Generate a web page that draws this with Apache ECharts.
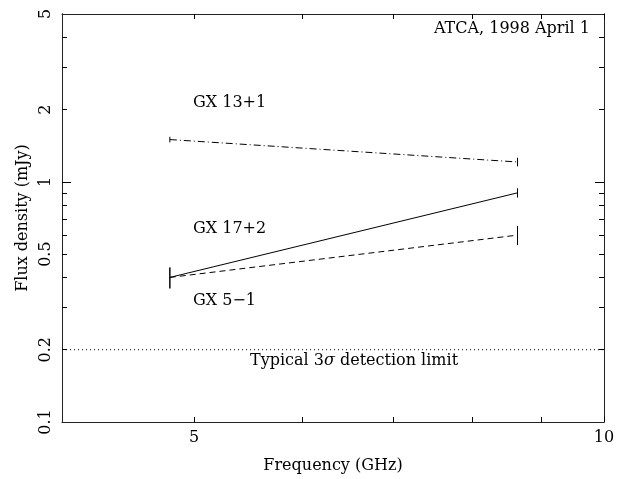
<!DOCTYPE html>
<html lang="en">
<head>
<meta charset="UTF-8">
<title>Flux density vs frequency</title>
<style>html,body{margin:0;padding:0;background:#fff;}</style>
</head>
<body>
<div id="main" style="width:626px;height:479px;"></div>
<script src="https://cdn.jsdelivr.net/npm/echarts@6/dist/echarts.min.js"></script>
<script>
// data
var freqs = [4.8, 8.64];
var gx13 = [1.50, 1.21];
var gx13Err = [0.04, 0.05];
var gx17 = [0.40, 0.90];
var gx17Err = [0.04, 0.04];
var gx5 = [0.40, 0.60];
var gx5Err = [0.04, 0.055];
var limitX = [4, 10];
var limitY = 0.2;
var xLabels = [5, 10];
var xTicks = [5, 6, 7, 8, 9, 10];
var yLabels = [0.1, 0.2, 0.5, 1, 2, 5];
var yTicks = [0.2, 0.3, 0.4, 0.5, 0.6, 0.7, 0.8, 0.9, 2, 3, 4];
var yMajorTicks = [1];

var font = 'DejaVu Serif';
var fs = 16;
var ink = '#000';

function pairs(xs, ys) {
    return xs.map(function (x, i) { return [x, ys[i]]; });
}
function errData(xs, ys, es) {
    return xs.map(function (x, i) { return [x, ys[i], es[i]]; });
}
function errRender(params, api) {
    var x = api.value(0), y = api.value(1), e = api.value(2);
    var p1 = api.coord([x, y - e]);
    var p2 = api.coord([x, y + e]);
    return {
        type: 'line',
        shape: {x1: p1[0], y1: p1[1], x2: p2[0], y2: p2[1]},
        style: {stroke: ink, lineWidth: 1}
    };
}
function lineSeries(name, data, type) {
    return {
        name: name, type: 'line', data: data, symbol: 'none',
        lineStyle: {color: ink, width: 1, type: type},
        silent: true
    };
}
function errSeries(data) {
    return {type: 'custom', renderItem: errRender, data: data, encode: {x: 0, y: 1}, silent: true};
}
// extra y axis that only carries ticks
function tickAxis(pos, ticks, len) {
    return {
        type: 'log', logBase: 10, min: 0.1, max: 5, position: pos,
        axisLine: {lineStyle: {color: '#222', width: 1}},
        axisTick: {inside: true, length: len, customValues: ticks, lineStyle: {color: ink}},
        axisLabel: {show: false},
        splitLine: {show: false}
    };
}

var myChart = echarts.init(document.getElementById('main'));

var axisLine = {lineStyle: {color: '#222', width: 1}};
var txt = fs + 'px "DejaVu Serif"';

var option = {
    animation: false,
    backgroundColor: '#fff',
    textStyle: {fontFamily: font},
    grid: {left: 62, right: 22, top: 14, bottom: 57},
    xAxis: [
        {
            type: 'log', logBase: 10, min: 4, max: 10,
            name: 'Frequency (GHz)', nameLocation: 'middle', nameGap: 36, nameMoveOverlap: false,
            nameTextStyle: {fontFamily: font, fontSize: fs, color: ink},
            axisLine: axisLine,
            axisTick: {inside: true, length: 5, customValues: xTicks, lineStyle: {color: ink}},
            axisLabel: {customValues: xLabels, fontFamily: font, fontSize: fs, color: ink, margin: 8},
            splitLine: {show: false}
        },
        {
            type: 'log', logBase: 10, min: 4, max: 10, position: 'top',
            axisLine: axisLine,
            axisTick: {inside: true, length: 5, customValues: xTicks, lineStyle: {color: ink}},
            axisLabel: {show: false},
            splitLine: {show: false}
        }
    ],
    yAxis: [
        {
            type: 'log', logBase: 10, min: 0.1, max: 5,
            name: 'Flux density (mJy)', nameLocation: 'middle', nameGap: 31, nameMoveOverlap: false,
            nameTextStyle: {fontFamily: font, fontSize: fs, color: ink},
            axisLine: axisLine,
            axisTick: {inside: true, length: 5, customValues: yTicks, lineStyle: {color: ink}},
            axisLabel: {customValues: yLabels, rotate: 90, fontFamily: font, fontSize: fs, color: ink, margin: 8},
            splitLine: {show: false}
        },
        tickAxis('right', yTicks, 5),
        tickAxis('left', yMajorTicks, 9),
        tickAxis('right', yMajorTicks, 9)
    ],
    series: [
        lineSeries('GX 13+1', pairs(freqs, gx13), [7, 3, 1, 3]),
        lineSeries('GX 17+2', pairs(freqs, gx17), 'solid'),
        lineSeries('GX 5-1', pairs(freqs, gx5), [6, 4]),
        lineSeries('limit', pairs(limitX, [limitY, limitY]), [1, 3]),
        errSeries(errData(freqs, gx13, gx13Err)),
        errSeries(errData(freqs, gx17, gx17Err)),
        errSeries(errData(freqs, gx5, gx5Err))
    ],
    graphic: [
        {type: 'text', right: 36, top: 21, style: {text: 'ATCA, 1998 April 1', font: txt, fill: ink}},
        {type: 'text', left: 193, top: 95, style: {text: 'GX 13+1', font: txt, fill: ink}},
        {type: 'text', left: 193, top: 221, style: {text: 'GX 17+2', font: txt, fill: ink}},
        {type: 'text', left: 193, top: 293, style: {text: 'GX 5\u22121', font: txt, fill: ink}},
        {type: 'text', left: 250, top: 353, style: {
            text: '{a|Typical 3}{s|\u03c3}{a| detection limit}',
            rich: {
                a: {fontFamily: font, fontSize: fs, fill: ink},
                s: {fontFamily: font, fontSize: fs, fontStyle: 'italic', fill: ink}
            }
        }}
    ]
};

myChart.setOption(option);
</script>
</body>
</html>
